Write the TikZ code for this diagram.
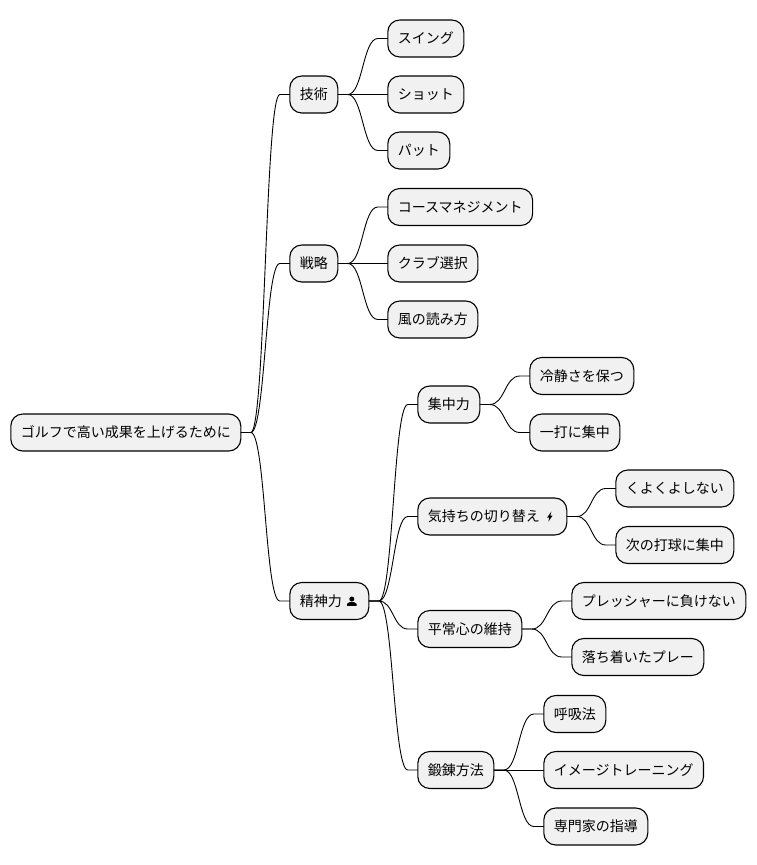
\documentclass[tikz,border=0pt]{standalone}
\usepackage{fontspec}
\setmainfont{Noto Sans CJK JP}
\usetikzlibrary{calc}
\definecolor{boxgray}{HTML}{F1F1F1}
\tikzset{
  topic/.style={draw=black, line width=1.1pt, fill=boxgray, rounded corners=12pt, anchor=west,
    minimum height=37pt, inner xsep=10pt, inner ysep=0pt, outer sep=0pt, xshift=0.8pt,
    font=\fontsize{14pt}{16pt}\selectfont},
  link/.style={line width=0.9pt, to path={let \p1=(\tikztostart.east), \p2=(\tikztotarget.west) in
    (\p1) -- ++(10pt,0pt) .. controls (\x1/2+\x2/2,\y1) and (\x1/2+\x2/2,\y2) .. (\x2-10pt,\y2) -- (\p2)}},
}
\begin{document}
\begin{tikzpicture}[x=1pt,y=-1pt]
        \useasboundingbox (0,0) rectangle (756,865);
        \node [topic] (root)    at (10,432.5)  {ゴルフで高い成果を上げるために};      %root

        \node [topic] (tech)    at (289,94.5)  {技術};                               %branch 1
        \node [topic] (swing)   at (387,38.5)  {スイング};                           %
        \node [topic] (shot)    at (387,94.5)  {ショット};                           %
        \node [topic] (putt)    at (387,150.5) {パット};                             %

        \node [topic] (plan)    at (289,263.5) {戦略};                               %branch 2
        \node [topic] (course)  at (387,207)   {コースマネジメント};                 %
        \node [topic] (club)    at (387,263.5) {クラブ選択};                         %
        \node [topic] (wind)    at (387,319.5) {風の読み方};                         %

        \node [topic] (mental)  at (289,601)   {精神力\rule{17pt}{0pt}};             %branch 3
        \node [topic] (focus)   at (417,404.5) {集中力};                             %
        \node [topic] (calm)    at (529,376)   {冷静さを保つ};                       %
        \node [topic] (onehit)  at (529,432.5) {一打に集中};                         %
        \node [topic] (switch)  at (417,516.5) {気持ちの切り替え\rule{17pt}{0pt}};   %
        \node [topic] (nofret)  at (615,488.5) {くよくよしない};                     %
        \node [topic] (nextb)   at (615,545)   {次の打球に集中};                     %
        \node [topic] (steady)  at (417,629)   {平常心の維持};                       %
        \node [topic] (press)   at (571,601)   {プレッシャーに負けない};             %
        \node [topic] (settle)  at (571,657)   {落ち着いたプレー};                   %
        \node [topic] (train)   at (417,770)   {鍛錬方法};                           %
        \node [topic] (breath)  at (543,714)   {呼吸法};                             %
        \node [topic] (image)   at (543,770)   {イメージトレーニング};               %
        \node [topic] (coach)   at (543,826.5) {専門家の指導};                       %

        \begin{scope}[shift={([xshift=-17pt]mental.east)}]                           %person icon
          \fill (0,-2) circle (2.5);
          \fill (-4.8,4.8) -- (-4.8,2.8) -- (-2,1) -- (2,1) -- (4.8,2.8) -- (4.8,4.8) -- cycle;
        \end{scope}
        \begin{scope}[shift={([xshift=-17pt]switch.east)}]                           %bolt icon
          \fill (1.6,-5) -- (-2.8,1.2) -- (-0.5,1.2) -- (-1.4,5.2) -- (2.8,-1) -- (0.5,-1) -- cycle;
        \end{scope}

        \draw [link] (root)   to (tech);
        \draw [link] (root)   to (plan);
        \draw [link] (root)   to (mental);

        \draw [link] (tech)   to (swing);
        \draw [link] (tech)   to (shot);
        \draw [link] (tech)   to (putt);

        \draw [link] (plan)   to (course);
        \draw [link] (plan)   to (club);
        \draw [link] (plan)   to (wind);

        \draw [link] (mental) to (focus);
        \draw [link] (mental) to (switch);
        \draw [link] (mental) to (steady);
        \draw [link] (mental) to (train);

        \draw [link] (focus)  to (calm);
        \draw [link] (focus)  to (onehit);
        \draw [link] (switch) to (nofret);
        \draw [link] (switch) to (nextb);
        \draw [link] (steady) to (press);
        \draw [link] (steady) to (settle);
        \draw [link] (train)  to (breath);
        \draw [link] (train)  to (image);
        \draw [link] (train)  to (coach);
      \end{tikzpicture}
\end{document}
